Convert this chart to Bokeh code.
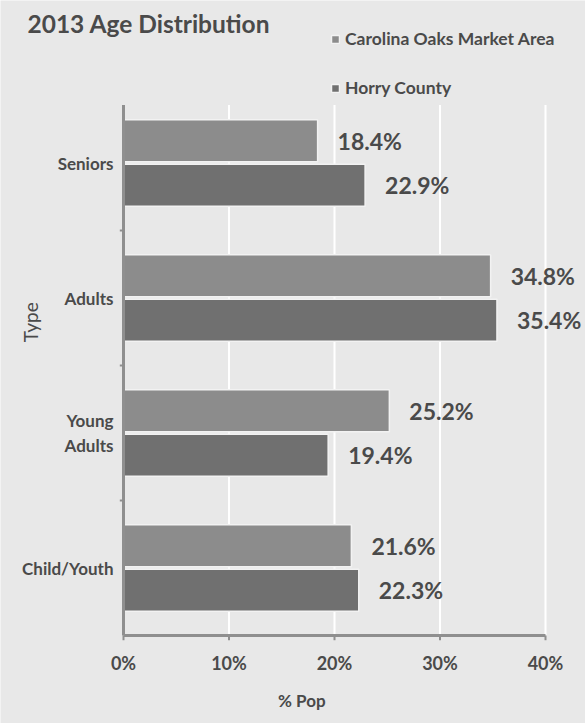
from bokeh.plotting import figure
from bokeh.models import ColumnDataSource, Range1d, Legend, LegendItem
from bokeh.core.properties import value
from bokeh.embed import file_html
from bokeh.resources import INLINE

# Age groups, bottom to top
categories = ["Child/Youth", "Young\nAdults", "Adults", "Seniors"]
market_area = [21.6, 25.2, 34.8, 18.4]   # Carolina Oaks Market Area, % of population
horry_county = [22.3, 19.4, 35.4, 22.9]  # Horry County, % of population
x_ticks = [0, 10, 20, 30, 40]
x_tick_labels = ["0%", "10%", "20%", "30%", "40%"]

FONT = value("Lato")
TEXT = "#4a4a4a"
BG = "#e8e8e8"
LIGHT = "#8c8c8c"
DARK = "#707070"
AXIS = "#8f8f8f"

W, H = 585, 723
# plotting area in pixels: 0% .. 40% across, four category bands down
X0, X40, Y_BOT, BAND = 123, 545, 635, 135
PX_PER_PCT = (X40 - X0) / 40.0

centers = [i + 0.5 for i in range(len(categories))]
src_ma = ColumnDataSource(dict(
    y=[c + 0.165 for c in centers], v=market_area,
    lbl=[f"{v:.1f}%" for v in market_area]))
src_hc = ColumnDataSource(dict(
    y=[c - 0.165 for c in centers], v=horry_county,
    lbl=[f"{v:.1f}%" for v in horry_county]))

# the frame fills the canvas; axes are drawn from the data scales below
p = figure(width=W, height=H, output_backend="svg", toolbar_location=None,
           x_axis_location=None, y_axis_location=None,
           x_range=Range1d(-X0 / PX_PER_PCT, (W - X0) / PX_PER_PCT),
           y_range=Range1d(-(H - Y_BOT) / BAND, Y_BOT / BAND),
           min_border=0)
p.background_fill_color = BG
p.border_fill_color = BG
p.outline_line_color = None
p.grid.visible = False

top = 3.93
# vertical white gridlines
p.segment(x0=x_ticks[1:], x1=x_ticks[1:], y0=0, y1=top,
          line_color="white", line_width=2)

r_ma = p.hbar(y="y", left=0, right="v", height=0.31, source=src_ma,
              fill_color=LIGHT, line_color="#f2f2f2", line_width=1.5)
r_hc = p.hbar(y="y", left=0, right="v", height=0.31, source=src_hc,
              fill_color=DARK, line_color="#f2f2f2", line_width=1.5)

# value labels
for src in (src_ma, src_hc):
    p.text(x="v", y="y", text="lbl", source=src, x_offset=20,
           text_font=FONT, text_font_style="bold", text_font_size="23px",
           text_color=TEXT, text_baseline="middle", text_align="left")

# axis lines and ticks
p.segment(x0=0, x1=40, y0=0, y1=0, line_color=AXIS, line_width=3)
p.segment(x0=0, x1=0, y0=0, y1=top, line_color=AXIS, line_width=3)
p.segment(x0=x_ticks, x1=x_ticks, y0=0, y1=-0.035, line_color=AXIS, line_width=2)
p.segment(x0=-0.35, x1=0, y0=[1, 2, 3], y1=[1, 2, 3], line_color=AXIS, line_width=2)

p.text(x=x_ticks, y=-0.2, text=x_tick_labels, text_font=FONT,
       text_font_style="bold", text_font_size="18px", text_color=TEXT,
       text_baseline="middle", text_align="center")
p.text(x=-0.95, y=centers, text=categories, text_font=FONT,
       text_font_style="bold", text_font_size="17px", text_color=TEXT,
       text_baseline="middle", text_align="right", text_line_height=1.2)

# titles
p.text(x=[-9.1], y=[4.53], text=["2013 Age Distribution"], text_font=FONT,
       text_font_style="bold", text_font_size="24.5px", text_color=TEXT,
       text_baseline="middle", text_align="left")
p.text(x=[16.9], y=[-0.48], text=["% Pop"], text_font=FONT,
       text_font_style="bold", text_font_size="17px", text_color=TEXT,
       text_baseline="middle", text_align="center")
p.text(x=[-8.8], y=[2.32], text=["Type"], angle=1.5708, text_font=FONT,
       text_font_size="19px", text_color=TEXT,
       text_baseline="middle", text_align="center")

legend = Legend(items=[LegendItem(label="Carolina Oaks Market Area", renderers=[r_ma]),
                       LegendItem(label="Horry County", renderers=[r_hc])],
                location=(330, H - 98), orientation="vertical",
                background_fill_alpha=0, border_line_color=None,
                padding=0, margin=0, spacing=28, label_standoff=5,
                glyph_width=10, glyph_height=10, label_height=20,
                label_text_font="Lato", label_text_font_style="bold",
                label_text_font_size="17.5px", label_text_color=TEXT)
p.add_layout(legend)

open("out.html", "w").write(file_html(p, INLINE))
